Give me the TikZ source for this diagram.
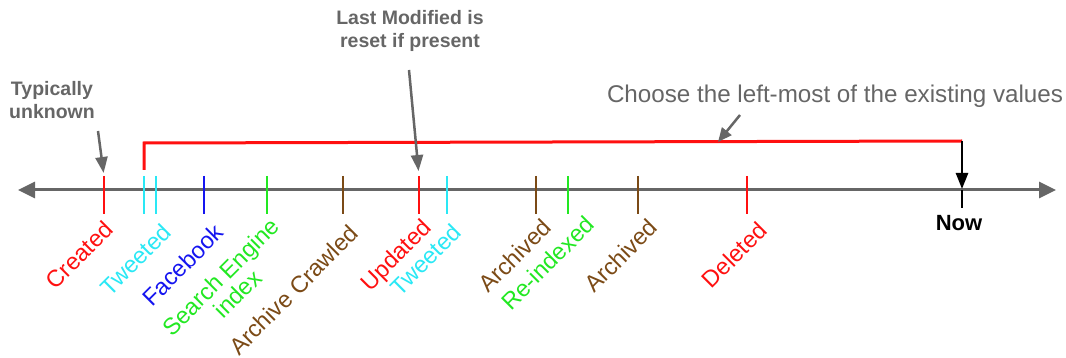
\documentclass[tikz,border=0pt]{standalone}
\usepackage{fontspec}
\setmainfont{Liberation Sans}
\usetikzlibrary{arrows.meta}
\definecolor{agray}{HTML}{666666}
\definecolor{abrown}{HTML}{7B4A16}
\definecolor{acyan}{HTML}{2AE8F5}
\definecolor{agreen}{HTML}{22E822}
\definecolor{ablue}{HTML}{1515F0}
\definecolor{ared}{HTML}{FF1010}
\begin{document}
\begin{tikzpicture}[x=1pt,y=-1pt,
  tickline/.style={line width=2.8pt},
  lbl/.style={rotate=45,anchor=north east,inner sep=0pt,font=\fontsize{23.5}{24}\selectfont},
  note/.style={text=agray,font=\bfseries\fontsize{19.5}{23}\selectfont,align=center,inner sep=0pt},
  notearrow/.style={draw=agray,line width=2.5pt,-{Triangle[length=16pt,width=12pt]}}]
\useasboundingbox (0,0) rectangle (1066,358);
% axis
\coordinate (axl) at (18,190);
\coordinate (axr) at (1056,190);
\draw[agray,line width=3pt,{Triangle[length=17pt,width=16pt]}-{Triangle[length=17pt,width=16pt]}] (axl) -- (axr);
% ticks
\foreach \n/\x/\c in {cr/104/ared, twa/144/acyan, twb/156/acyan, fb/204/ablue, se/267/agreen,
  ac/343/abrown, up/419/ared, twc/447/acyan, ara/536/abrown, ri/568/agreen, arb/638/abrown, de/747/ared}{
  \coordinate (\n t) at (\x,176);
  \coordinate (\n b) at (\x,214);
  \draw[tickline,\c] (\n t) -- (\n b);
}
% labels
\node[lbl,text=ared] (lcr) at (103,219) {Created};
\node[lbl,text=acyan] (ltwa) at (161,222) {Tweeted};
\node[lbl,text=ablue] (lfb) at (213,222) {Facebook};
\node[lbl,text=agreen,align=center] (lse) at (269,216) {Search Engine\\index};
\node[lbl,text=abrown] (lac) at (348,223) {Archive Crawled};
\node[lbl,text=ared] (lup) at (421,217) {Updated};
\node[lbl,text=acyan] (ltwc) at (451,222) {Tweeted};
\node[lbl,text=abrown] (lara) at (541,217) {Archived};
\node[lbl,text=agreen] (lri) at (584,214) {Re-indexed};
\node[lbl,text=abrown] (larb) at (647,217) {Archived};
\node[lbl,text=ared] (lde) at (757,220) {Deleted};
% Now
\coordinate (nowtop) at (962,141);
\coordinate (nowax) at (962,190);
\coordinate (nowbot) at (962,208);
\draw[line width=2.5pt] (nowax) -- (nowbot);
\node[font=\bfseries\fontsize{22}{24}\selectfont,inner sep=0pt] (now) at (959,223) {Now};
% red bracket
\coordinate (brl) at (144,143);
\draw[ared,line width=3pt,line join=miter] ([yshift=6pt]twat) -- (brl) -- (nowtop);
\draw[line width=2.5pt,-{Triangle[length=16pt,width=12pt]}] (nowtop) -- ([yshift=1pt]nowax);
% annotations
\node[note] (tu) at (52,100) {Typically\\unknown};
\coordinate (tus) at (98,131);
\draw[notearrow,shorten >=3pt] (tus) -- (crt);
\node[note] (lm) at (410,31) {Last Modified is\\reset if present};
\coordinate (lms) at (409,70);
\draw[notearrow,shorten >=5pt] (lms) -- (upt);
\node[text=agray,font=\fontsize{24.2}{25}\selectfont,inner sep=0pt] (ch) at (835,96) {Choose the left-most of the existing values};
\coordinate (chs) at (740,115);
\coordinate (che) at (718,142);
\draw[notearrow,-{Triangle[length=14pt,width=12pt]}] (chs) -- (che);
\end{tikzpicture}
\end{document}
